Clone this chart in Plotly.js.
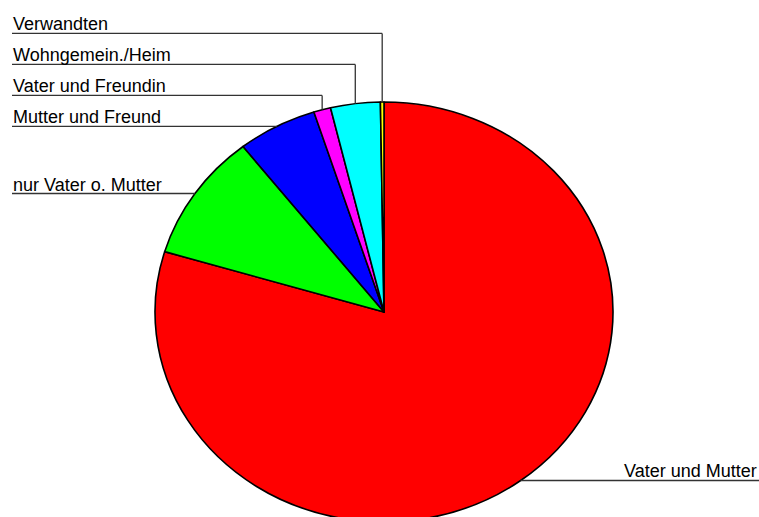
<!DOCTYPE html>
<html><head><meta charset="utf-8">
<script src="https://cdn.plot.ly/plotly-3.0.1.min.js"></script>
<style>html,body{margin:0;padding:0;overflow:hidden;background:#fff}#wrap{width:759px;height:517px;overflow:hidden}#chart{width:759px;height:600px}</style>
</head><body><div id="wrap"><div id="chart"></div></div>
<script>
const categories = ["Vater und Mutter","nur Vater o. Mutter","Mutter und Freund","Vater und Freundin","Wohngemein./Heim","Verwandten"];
const values = [79.6, 9.8, 5.6, 1.2, 3.5, 0.25];
const colors = ["#FF0000","#00FF00","#0000FF","#FF00FF","#00FFFF","#FFFF00"];

const W = 759, H = 600, CX = 384, CY = 312, RX = 229, RY = 210;
const LEFT = 12, ROWGAP = 31, TEXTDROP = 2;
const px = x => x / W, py = y => (H - y) / H;
const lineStyle = {color: "#333", width: 1.3};
const font = {family: "Liberation Sans, Arial, sans-serif", size: 18, color: "#000"};

const total = values.reduce((a, b) => a + b, 0);
let cum = 0;
const mids = values.map(v => { const m = (cum + v / 2) / total * 2 * Math.PI; cum += v; return {x: CX + RX * Math.sin(m), y: CY - RY * Math.cos(m)}; });

const shapes = [], annotations = [];
function hline(x0, x1, y) { shapes.push({type: "line", xref: "paper", yref: "paper", x0: px(x0), x1: px(x1), y0: py(y), y1: py(y), line: lineStyle}); }
function vline(x, y0, y1) { shapes.push({type: "line", xref: "paper", yref: "paper", x0: px(x), x1: px(x), y0: py(y0), y1: py(y1), line: lineStyle}); }
function label(text, x, y, anchor) { annotations.push({text: text, xref: "paper", yref: "paper", x: px(x), y: py(y + TEXTDROP), xanchor: anchor, yanchor: "bottom", showarrow: false, font: font, borderpad: 0}); }

// main slice: label to the right
hline(mids[0].x, W, mids[0].y); label(categories[0], W - 1, mids[0].y, "right");
// left labels
for (let i = 1; i <= 2; i++) { hline(LEFT, mids[i].x, mids[i].y); label(categories[i], LEFT, mids[i].y, "left"); }
for (let i = 3; i < values.length; i++) {
  const rowY = mids[2].y - ROWGAP * (i - 2);
  vline(mids[i].x, mids[i].y, rowY);
  hline(LEFT, mids[i].x, rowY);
  label(categories[i], LEFT, rowY, "left");
}

const trace = {
  type: "pie", labels: categories, values: values, sort: false, direction: "clockwise", rotation: 0,
  marker: {colors: colors, line: {color: "#000", width: 1.6}}, textinfo: "none", hoverinfo: "none",
  domain: {x: [px(CX - RX), px(CX + RX)], y: [py(CY + RX), py(CY - RX)]}
};
const layout = {width: W, height: H, margin: {l: 0, r: 0, t: 0, b: 0}, showlegend: false,
  paper_bgcolor: "#fff", plot_bgcolor: "#fff", shapes: shapes, annotations: annotations};

Plotly.newPlot("chart", [trace], layout, {staticPlot: true, displayModeBar: false}).then(gd => {
  const s = RY / RX;
  const pl = gd.querySelector(".pielayer");
  if (pl) {
    pl.setAttribute("transform", "translate(0," + (CY * (1 - s)) + ") scale(1," + s + ")");
    pl.querySelectorAll("path").forEach(p => p.style.vectorEffect = "non-scaling-stroke");
  }
});
</script></body></html>
